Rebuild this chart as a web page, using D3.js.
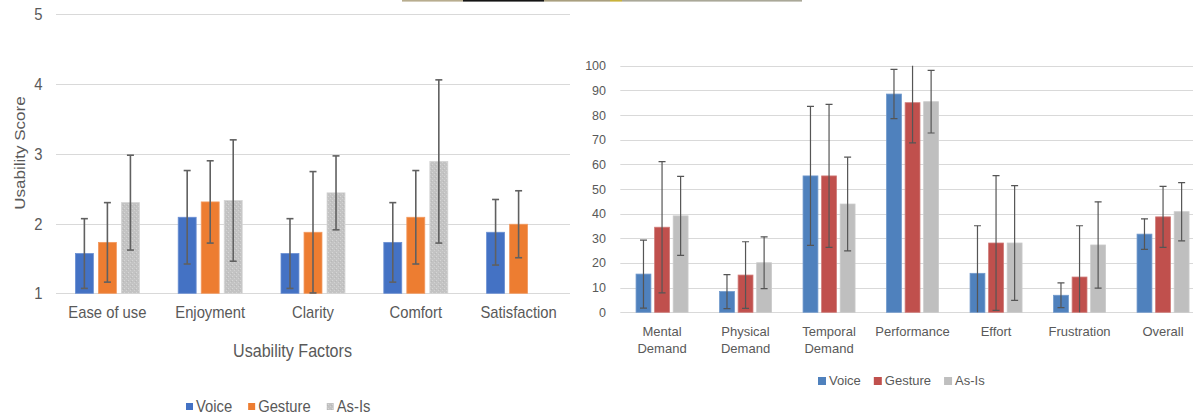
<!DOCTYPE html>
<html>
<head>
<meta charset="utf-8">
<script src="https://cdn.jsdelivr.net/npm/d3@7/dist/d3.min.js"></script>
<style>
	body { margin: 0; background: #fff; }
	svg { display: block; }
</style>
</head>
<body>
<div id="my_data"></div>
<script>
// left chart: usability questionnaire
var usabilityFactors = ["Ease of use", "Enjoyment", "Clarity", "Comfort", "Satisfaction"];
var usabilityTicks = [1, 2, 3, 4, 5];
var usabilityVoice = [1.57, 2.09, 1.57, 1.73, 1.875];
var usabilityVoiceErr = [0.50, 0.67, 0.50, 0.57, 0.47];
var usabilityGesture = [1.73, 2.31, 1.875, 2.09, 1.99];
var usabilityGestureErr = [0.57, 0.59, 0.87, 0.67, 0.48];
var usabilityAsIs = [2.30, 2.33, 2.44, 2.89, null];
var usabilityAsIsErr = [0.68, 0.87, 0.53, 1.17, null];

// right chart: NASA TLX
var tlxCategories = [["Mental", "Demand"], ["Physical", "Demand"], ["Temporal", "Demand"], ["Performance"], ["Effort"], ["Frustration"], ["Overall"]];
var tlxTicks = [0, 10, 20, 30, 40, 50, 60, 70, 80, 90, 100];
var tlxVoice = [15.5, 8.4, 55.3, 88.5, 15.8, 6.9, 31.7];
var tlxVoiceErr = [13.8, 6.9, 28.2, 10.0, 19.3, 5.0, 6.2];
var tlxGesture = [34.5, 15.1, 55.3, 85.0, 28.1, 14.3, 38.7];
var tlxGestureErr = [26.6, 13.5, 29.0, 16.3, 27.3, 20.8, 12.4];
var tlxAsIs = [39.1, 20.1, 43.9, 85.4, 28.1, 27.3, 40.8];
var tlxAsIsErr = [16.0, 10.5, 19.0, 12.7, 23.3, 17.5, 11.8];

var seriesNames = ["Voice", "Gesture", "As-Is"];

var width = 1193;
var height = 412;
var squash = 0.87; // left picture is a bit narrower than it was drawn

var svg = d3.select("#my_data").append("svg")
	.attr("width", width)
	.attr("height", height)
	.attr("viewBox", [0, 0, width, height]);

var defs = svg.append("defs");

// speckled gray of the left As-Is bars
var pat = defs.append("pattern")
	.attr("id", "speckle")
	.attr("patternUnits", "userSpaceOnUse")
	.attr("width", 4)
	.attr("height", 4);
pat.append("rect").attr("width", 4).attr("height", 4).attr("fill", "#c3c3c3");
pat.append("rect").attr("x", 0).attr("y", 0).attr("width", 1).attr("height", 1).attr("fill", "#d6d6d6");
pat.append("rect").attr("x", 2).attr("y", 2).attr("width", 1).attr("height", 1).attr("fill", "#d2d2d2");
pat.append("rect").attr("x", 3).attr("y", 1).attr("width", 1).attr("height", 1).attr("fill", "#b8b8b8");

// thin strip of a photo at the top edge
var strip = [[402, 463, "#b8ad8f"], [463, 544, "#141414"], [544, 610, "#a99f7f"], [610, 622, "#c9b23a"], [622, 802, "#aaa898"]];
svg.append("g")
	.selectAll("rect")
	.data(strip)
	.enter().append("rect")
	.attr("x", d => d[0])
	.attr("y", 0)
	.attr("width", d => d[1] - d[0])
	.attr("height", 1.6)
	.attr("fill", d => d[2]);

drawUsability();
drawTlx();

function drawUsability() {
	var font = "'Liberation Sans', Arial, sans-serif";
	var textColor = "#595959";
	var colors = ["#4472C4", "#ED7D31", "url(#speckle)"];
	var strokes = ["#6a8fd3", "#f29a60", "#d4d4d4"];
	var values = [usabilityVoice, usabilityGesture, usabilityAsIs];
	var errs = [usabilityVoiceErr, usabilityGestureErr, usabilityAsIsErr];

	var x0 = d3.scaleBand().domain(usabilityFactors).range([56, 570]);
	var x1 = d3.scaleBand().domain(seriesNames).range([0, 64]).paddingInner(0.22);
	var y = d3.scaleLinear().domain([1, 5]).range([293.3, 14.3]);
	var off = (x0.bandwidth() - 64) / 2;

	var g = svg.append("g").attr("class", "usability");

	g.append("g")
		.selectAll("line")
		.data(usabilityTicks)
		.enter().append("line")
		.attr("x1", x0.range()[0])
		.attr("x2", x0.range()[1])
		.attr("y1", d => Math.round(y(d)) + 0.5)
		.attr("y2", d => Math.round(y(d)) + 0.5)
		.attr("stroke", "#d9d9d9")
		.attr("stroke-width", 1);

	g.append("g")
		.selectAll("text")
		.data(usabilityTicks)
		.enter().append("text")
		.attr("transform", d => "translate(42.5," + y(d) + ") scale(" + squash + ",1)")
		.attr("dy", "0.36em")
		.attr("text-anchor", "end")
		.attr("font-family", font)
		.attr("font-size", 17)
		.attr("fill", textColor)
		.text(d => d);

	var bars = [];
	var whiskers = [];
	usabilityFactors.forEach(function(c, i) {
		seriesNames.forEach(function(s, k) {
			if (values[k][i] == null) return;
			bars.push({ cat: c, s: s, k: k, v: values[k][i] });
			whiskers.push({ cat: c, s: s, lo: values[k][i] - errs[k][i], hi: values[k][i] + errs[k][i] });
		});
	});

	g.append("g")
		.selectAll("rect")
		.data(bars)
		.enter().append("rect")
		.attr("x", d => x0(d.cat) + off + x1(d.s))
		.attr("y", d => y(d.v))
		.attr("width", x1.bandwidth())
		.attr("height", d => y(1) - y(d.v))
		.attr("fill", d => colors[d.k])
		.attr("stroke", d => strokes[d.k])
		.attr("stroke-width", 0.8);

	var eb = g.append("g")
		.attr("stroke", "#606060")
		.attr("stroke-width", 1.6)
		.selectAll("g")
		.data(whiskers)
		.enter().append("g")
		.attr("transform", d => "translate(" + (x0(d.cat) + off + x1(d.s) + x1.bandwidth() / 2) + ",0)");
	eb.append("line").attr("y1", d => y(d.hi)).attr("y2", d => y(d.lo));
	eb.append("line").attr("x1", -3.5).attr("x2", 3.5).attr("y1", d => y(d.hi)).attr("y2", d => y(d.hi));
	eb.append("line").attr("x1", -3.5).attr("x2", 3.5).attr("y1", d => y(d.lo)).attr("y2", d => y(d.lo));

	g.append("g")
		.selectAll("text")
		.data(usabilityFactors)
		.enter().append("text")
		.attr("transform", d => "translate(" + (x0(d) + x0.bandwidth() / 2) + ",318) scale(" + squash + ",1)")
		.attr("text-anchor", "middle")
		.attr("font-family", font)
		.attr("font-size", 17)
		.attr("fill", textColor)
		.text(d => d);

	g.append("text")
		.attr("transform", "translate(292.5,357) scale(" + squash + ",1)")
		.attr("text-anchor", "middle")
		.attr("font-family", font)
		.attr("font-size", 18.5)
		.attr("fill", textColor)
		.text("Usability Factors");

	g.append("text")
		.attr("transform", "translate(20,153) rotate(-90) scale(1," + squash + ")")
		.attr("dy", "0.36em")
		.attr("text-anchor", "middle")
		.attr("font-family", font)
		.attr("font-size", 17)
		.attr("fill", textColor)
		.text("Usability Score");

	// legend
	var lx = 186;
	var leg = g.append("g");
	seriesNames.forEach(function(s, k) {
		leg.append("rect")
			.attr("x", lx)
			.attr("y", 403)
			.attr("width", 7)
			.attr("height", 7)
			.attr("fill", colors[k]);
		var t = leg.append("text")
			.attr("transform", "translate(" + (lx + 10) + ",412) scale(" + squash + ",1)")
			.attr("font-family", font)
			.attr("font-size", 17)
			.attr("fill", textColor)
			.text(s);
		lx += 10 + t.node().getComputedTextLength() * squash + 16;
	});
}

function drawTlx() {
	var font = "'Liberation Sans', Arial, sans-serif";
	var textColor = "#595959";
	var colors = ["#4F81BD", "#C0504D", "#BFBFBF"];
	var strokes = ["#7199cc", "#cf7a77", "#cacaca"];
	var values = [tlxVoice, tlxGesture, tlxAsIs];
	var errs = [tlxVoiceErr, tlxGestureErr, tlxAsIsErr];
	var names = tlxCategories.map(d => d.join(" "));

	var x0 = d3.scaleBand().domain(names).range([620.3, 620.3 + 83.5 * names.length]);
	var x1 = d3.scaleBand().domain(seriesNames).range([0, 52]).paddingInner(0.2);
	var y = d3.scaleLinear().domain([0, 100]).range([312.3, 65.7]);
	var off = (x0.bandwidth() - 52) / 2;

	var g = svg.append("g").attr("class", "tlx");

	defs.append("clipPath")
		.attr("id", "tlxclip")
		.append("rect")
		.attr("x", x0.range()[0])
		.attr("y", y(100))
		.attr("width", x0.range()[1] - x0.range()[0])
		.attr("height", y(0) - y(100));

	g.append("g")
		.selectAll("line")
		.data(tlxTicks)
		.enter().append("line")
		.attr("x1", x0.range()[0])
		.attr("x2", width)
		.attr("y1", d => Math.round(y(d)) + 0.5)
		.attr("y2", d => Math.round(y(d)) + 0.5)
		.attr("stroke", "#d9d9d9")
		.attr("stroke-width", 1);

	g.append("g")
		.selectAll("text")
		.data(tlxTicks)
		.enter().append("text")
		.attr("x", 606)
		.attr("y", d => y(d))
		.attr("dy", "0.36em")
		.attr("text-anchor", "end")
		.attr("font-family", font)
		.attr("font-size", 12.5)
		.attr("fill", textColor)
		.text(d => d);

	var bars = [];
	names.forEach(function(c, i) {
		seriesNames.forEach(function(s, k) {
			bars.push({ cat: c, s: s, k: k, v: values[k][i], lo: values[k][i] - errs[k][i], hi: values[k][i] + errs[k][i] });
		});
	});

	g.append("g")
		.selectAll("rect")
		.data(bars)
		.enter().append("rect")
		.attr("x", d => x0(d.cat) + off + x1(d.s))
		.attr("y", d => y(d.v))
		.attr("width", x1.bandwidth())
		.attr("height", d => y(0) - y(d.v))
		.attr("fill", d => colors[d.k])
		.attr("stroke", d => strokes[d.k])
		.attr("stroke-width", 0.8);

	var eb = g.append("g")
		.attr("clip-path", "url(#tlxclip)")
		.attr("stroke", "#555")
		.attr("stroke-width", 1.2)
		.selectAll("g")
		.data(bars)
		.enter().append("g")
		.attr("transform", d => "translate(" + (x0(d.cat) + off + x1(d.s) + x1.bandwidth() / 2) + ",0)");
	eb.append("line").attr("y1", d => y(d.hi)).attr("y2", d => y(d.lo));
	eb.append("line").attr("x1", -3.5).attr("x2", 3.5).attr("y1", d => y(d.hi)).attr("y2", d => y(d.hi));
	eb.append("line").attr("x1", -3.5).attr("x2", 3.5).attr("y1", d => y(d.lo)).attr("y2", d => y(d.lo));

	g.append("g")
		.selectAll("text")
		.data(tlxCategories)
		.enter().append("text")
		.attr("x", (d, i) => x0(names[i]) + x0.bandwidth() / 2)
		.attr("y", 336)
		.attr("text-anchor", "middle")
		.attr("font-family", font)
		.attr("font-size", 13)
		.attr("fill", textColor)
		.each(function(d) {
			var t = d3.select(this);
			d.forEach(function(line, j) {
				t.append("tspan")
					.attr("x", t.attr("x"))
					.attr("dy", j == 0 ? 0 : 17)
					.text(line);
			});
		});

	// legend
	var lx = 818;
	var leg = g.append("g");
	seriesNames.forEach(function(s, k) {
		leg.append("rect")
			.attr("x", lx)
			.attr("y", 377)
			.attr("width", 8)
			.attr("height", 8)
			.attr("fill", colors[k]);
		var t = leg.append("text")
			.attr("x", lx + 11)
			.attr("y", 385)
			.attr("font-family", font)
			.attr("font-size", 13)
			.attr("fill", textColor)
			.text(s);
		lx += 11 + t.node().getComputedTextLength() + 13;
	});
}
</script>
</body>
</html>
